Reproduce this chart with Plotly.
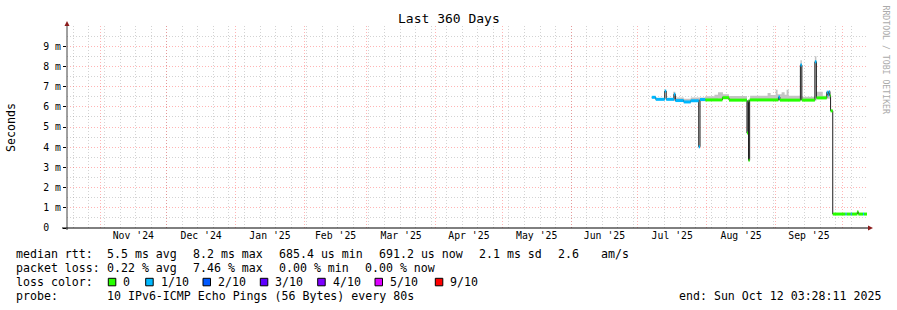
import plotly.graph_objects as go
import pandas as pd

# ---------------- data ----------------
START = "2024-10-17 03:28:11"
END = "2025-10-12 03:28:11"

# median RTT (ms) as steps: each value holds from its time until the next time
med_time = [
    "2025-07-07 07:00", "2025-07-09 02:00", "2025-07-13 03:00", "2025-07-13 19:00",
    "2025-07-17 06:30", "2025-07-17 21:30", "2025-07-21 16:00", "2025-07-24 20:00",
    "2025-07-28 10:00", "2025-07-29 00:00", "2025-07-31 08:00", "2025-08-08 02:00",
    "2025-08-11 01:00", "2025-08-19 03:00", "2025-08-19 14:00", "2025-08-19 20:00",
    "2025-08-20 08:00", "2025-09-02 07:00", "2025-09-02 23:00", "2025-09-12 04:00",
    "2025-09-12 20:00", "2025-09-18 16:30", "2025-09-19 09:00", "2025-09-24 01:00",
    "2025-09-24 13:00", "2025-09-24 22:30", "2025-09-25 10:00", "2025-09-25 18:00",
    "2025-09-26 17:30", "2025-10-02 12:00", "2025-10-02 22:30", "2025-10-04 20:00",
    "2025-10-05 06:45", "2025-10-07 19:00", "2025-10-08 06:00", "2025-10-10 08:45",
    "2025-10-10 19:30",
]
med_ms = [
    6.47, 6.37, 6.78, 6.37,
    6.62, 6.31, 6.24, 6.30,
    4.02, 6.36, 6.34, 6.45,
    6.33, 4.70, 6.30, 3.35,
    6.34, 6.48, 6.33, 8.07,
    6.33, 8.23, 6.44, 6.72,
    6.58, 6.75, 6.55, 5.80,
    0.69, 0.69, 0.69, 0.69,
    0.69, 0.80, 0.69, 0.69,
    0.69,
]
med_loss = [
    1, 1, 1, 1,
    1, 1, 1, 1,
    1, 1, 0, 0,
    0, 0, 0, 0,
    0, 1, 0, 1,
    0, 1, 0, 1,
    1, 1, 0, 0,
    0, 1, 0, 1,
    0, 0, 0, 1,
    0,
]

# smoke (spread of the pings), ms
smoke_time = [
    "2025-07-16 23:00", "2025-07-17 21:30", "2025-07-21 16:00", "2025-07-24 20:00",
    "2025-07-31 08:00", "2025-08-04 12:00", "2025-08-06 02:00", "2025-08-08 08:00",
    "2025-08-11 01:00", "2025-08-19 03:00", "2025-08-20 13:00", "2025-08-28 10:00",
    "2025-08-29 19:00", "2025-09-01 01:00", "2025-09-01 22:00", "2025-09-03 17:00",
    "2025-09-05 02:00", "2025-09-05 23:00", "2025-09-06 21:00", "2025-09-12 04:00",
    "2025-09-12 20:00", "2025-09-18 16:30", "2025-09-19 09:00", "2025-09-22 06:00",
    "2025-09-24 01:00", "2025-09-25 18:00",
]
smoke_lo_ms = [
    6.30, 6.28, 6.22, 6.28,
    6.30, 6.30, 6.40, 6.40,
    6.30, 6.30, 6.30, 6.30,
    6.30, 6.30, 6.30, 6.30,
    6.30, 6.30, 6.30, 6.30,
    6.30, 6.30, 6.40, 6.40,
    6.40, 6.40,
]
smoke_hi_ms = [
    6.75, 6.46, 6.40, 6.46,
    6.52, 6.60, 6.72, 6.62,
    6.53, 6.30, 6.55, 6.68,
    6.58, 6.85, 6.62, 6.72,
    6.60, 6.85, 6.55, 8.30,
    6.50, 8.50, 6.75, 6.55,
    6.80, 6.40,
]

LOSS_COLORS = ["#26ff00", "#00b8ff", "#0059ff", "#5e00ff", "#7e00ff", "#dd00ff", "#ff0000"]
LOSS_LABELS = ["0", "1/10", "2/10", "3/10", "4/10", "5/10", "9/10"]

Y_TICKVALS = [0, 1, 2, 3, 4, 5, 6, 7, 8, 9]
Y_TICKTEXT = ["0\u00a0\u00a0", "1 m", "2 m", "3 m", "4 m", "5 m", "6 m", "7 m", "8 m", "9 m"]
Y_MINOR = [0.5, 1.5, 2.5, 3.5, 4.5, 5.5, 6.5, 7.5, 8.5, 9.5]

LEGEND_ROWS = [
    [("median rtt:", 16), ("5.5 ms avg", 107.3), ("8.2 ms max", 193.3), ("685.4 us min", 279.3),
     ("691.2 us now", 379.3), ("2.1 ms sd", 479.3), ("2.6", 558.3), ("am/s", 600.7)],
    [("packet loss:", 16), ("0.22 % avg", 107.3), ("7.46 % max", 193.3), ("0.00 % min", 279.3),
     ("0.00 % now", 365.3)],
    [("loss color:", 16)],
    [("probe:", 16), ("10 IPv6-ICMP Echo Pings (56 Bytes) every 80s", 107.3)],
]
LEGEND_Y = [254, 268, 282, 296]
SWATCH_X = [108.3, 145.7, 203.0, 260.3, 317.7, 375.0, 435.3]
SWATCH_LABEL_X = [123.3, 160.7, 218.0, 275.3, 332.7, 390.0, 450.0]

# weekly minor grid (Sundays)
WEEKS = [d.strftime("%Y-%m-%d") for d in pd.date_range("2024-10-20", "2025-10-12", freq="7D")]

# ---------------- geometry ----------------
W, H = 897, 310
ML, MR, MT, MB = 67, 30, 26, 82
PW, PH = W - ML - MR, H - MT - MB
MONO = "DejaVu Sans Mono"


def px(x):
    return (x - ML) / PW


def py(y):
    return (H - MB - y) / PH


fig = go.Figure()

# smoke
sx = smoke_time + [smoke_time[-1]]
fig.add_trace(go.Scatter(x=sx, y=smoke_lo_ms + [smoke_lo_ms[-1]], mode="lines",
                         line=dict(width=0, shape="hv"), hoverinfo="skip", showlegend=False))
fig.add_trace(go.Scatter(x=sx, y=smoke_hi_ms + [smoke_hi_ms[-1]], mode="lines",
                         line=dict(width=0, shape="hv"), fill="tonexty",
                         fillcolor="#c4c4c4", hoverinfo="skip", showlegend=False))

# median black line
fig.add_trace(go.Scatter(x=med_time + [END], y=med_ms + [med_ms[-1]], mode="lines",
                         line=dict(color="#202020", width=1, shape="hv"),
                         hoverinfo="skip", showlegend=False))

# loss-coloured median segments
ends = med_time[1:] + [END]
for b, col in enumerate(LOSS_COLORS):
    xs, ys = [], []
    for t0, t1, v, l in zip(med_time, ends, med_ms, med_loss):
        if l == b:
            xs += [t0, t1, None]
            ys += [v, v, None]
    if xs:
        fig.add_trace(go.Scatter(x=xs, y=ys, mode="lines", line=dict(color=col, width=3),
                                 hoverinfo="skip", showlegend=False))

RED_GRID = "rgba(255,60,60,0.38)"
GRAY_GRID = "rgba(140,140,140,0.38)"
DASH = "1px,2px"

fig.update_xaxes(
    type="date", range=[START, END], tickmode="linear", tick0="2024-11-01", dtick="M1",
    ticklabelmode="period", tickformat="%b '%y", showgrid=True, gridcolor=RED_GRID,
    griddash=DASH, gridwidth=1, zeroline=False, showline=False, ticks="",
    tickfont=dict(family=MONO, size=9.8, color="#000"),
    minor=dict(tickmode="array", tickvals=WEEKS, showgrid=True, gridcolor=GRAY_GRID,
               griddash=DASH, gridwidth=1),
)
fig.update_yaxes(
    range=[0, 10], tickmode="array", tickvals=Y_TICKVALS, ticktext=Y_TICKTEXT,
    showgrid=True, gridcolor=RED_GRID, griddash=DASH, gridwidth=1, zeroline=False,
    showline=False, ticks="outside", ticklen=3, tickcolor="#000", tickwidth=1,
    tickfont=dict(family=MONO, size=9.8, color="#000"),
    minor=dict(tickmode="array", tickvals=Y_MINOR, showgrid=True, gridcolor=GRAY_GRID,
               griddash=DASH, gridwidth=1),
)

shapes = []
# axes
shapes.append(dict(type="line", xref="paper", yref="paper", x0=0, x1=0, y0=py(230), y1=py(26),
                   line=dict(color="#404040", width=1)))
shapes.append(dict(type="line", xref="paper", yref="paper", x0=px(62), x1=px(868), y0=0, y1=0,
                   line=dict(color="#000", width=1)))
ARROW = "#8b1c1c"
shapes.append(dict(type="path", xref="paper", yref="paper",
                   path=f"M {px(64.5)},{py(26)} L {px(69.5)},{py(26)} L {px(67)},{py(21)} Z",
                   fillcolor=ARROW, line=dict(width=0)))
shapes.append(dict(type="path", xref="paper", yref="paper",
                   path=f"M {px(868)},{py(225.5)} L {px(868)},{py(230.5)} L {px(873)},{py(228)} Z",
                   fillcolor=ARROW, line=dict(width=0)))
# loss colour swatches
for bx, col in zip(SWATCH_X, LOSS_COLORS):
    shapes.append(dict(type="rect", xref="paper", yref="paper", x0=px(bx), x1=px(bx + 7.5),
                       y0=py(285.8), y1=py(278.3), fillcolor=col, line=dict(color="#000", width=1)))

annotations = []


def ann(text, x, y, size, xanchor="left", color="#000", angle=0):
    annotations.append(dict(text=text, xref="paper", yref="paper", x=px(x), y=py(y),
                            xanchor=xanchor, yanchor="middle", showarrow=False,
                            textangle=angle, borderpad=0, borderwidth=0,
                            font=dict(family=MONO, size=size, color=color)))


ann("Last 360 Days", 448.5, 19, 13, xanchor="center")
ann("Seconds", 11, 127, 11.6, xanchor="center", angle=-90)
ann("RRDTOOL / TOBI OETIKER", 886, 59.5, 8.2, xanchor="center", color="#aaaaaa", angle=90)
for row, yy in zip(LEGEND_ROWS, LEGEND_Y):
    for text, xx in row:
        ann(text, xx, yy, 11.6)
for lab, lx in zip(LOSS_LABELS, SWATCH_LABEL_X):
    ann(lab, lx, 282, 11.6)
ann("end: Sun Oct 12 03:28:11 2025", 880.5, 296, 11.6, xanchor="right")

fig.update_layout(
    width=W, height=H, autosize=False,
    margin=dict(l=ML, r=MR, t=MT, b=MB, pad=0),
    paper_bgcolor="#ffffff", plot_bgcolor="#ffffff",
    showlegend=False, shapes=shapes, annotations=annotations,
)

fig.write_html("out.html", config={"displayModeBar": False})
